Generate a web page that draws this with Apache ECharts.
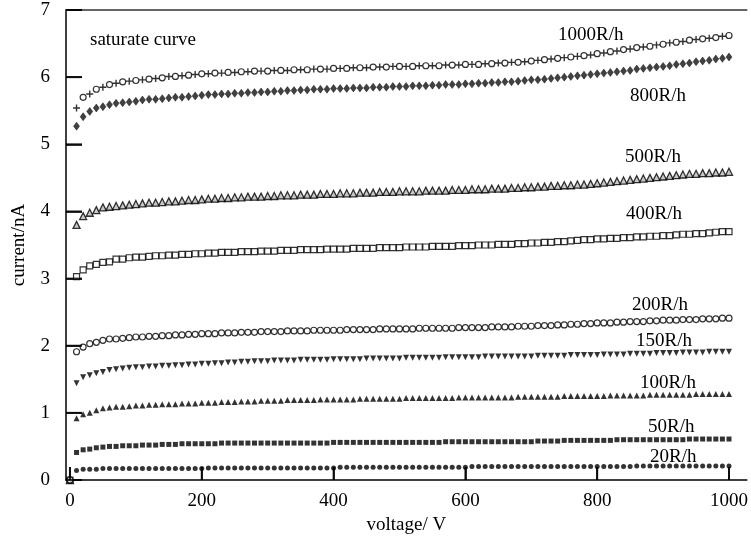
<!DOCTYPE html>
<html><head><meta charset="utf-8">
<script src="https://cdn.jsdelivr.net/npm/echarts@6/dist/echarts.min.js"></script>
<style>html,body{margin:0;padding:0;background:#fff}#c{width:751px;height:544px}</style>
</head><body><div id="c"></div>
<script>
const voltage = [0,10,20,30,40,50,60,70,80,90,100,110,120,130,140,150,160,170,180,190,200,
210,220,230,240,250,260,270,280,290,300,310,320,330,340,350,360,370,380,390,400,
410,420,430,440,450,460,470,480,490,500,510,520,530,540,550,560,570,580,590,600,
610,620,630,640,650,660,670,680,690,700,710,720,730,740,750,760,770,780,790,800,
810,820,830,840,850,860,870,880,890,900,910,920,930,940,950,960,970,980,990,1000];

const r1000 = [0,
5.54,5.70,5.75,5.82,5.85,5.89,5.91,5.93,5.94,5.95,
5.96,5.97,5.98,5.99,6.01,6.01,6.02,6.03,6.04,6.05,
6.05,6.06,6.06,6.07,6.07,6.08,6.08,6.09,6.09,6.09,
6.10,6.10,6.10,6.11,6.11,6.11,6.12,6.12,6.12,6.13,
6.13,6.13,6.14,6.14,6.14,6.15,6.15,6.15,6.16,6.16,
6.16,6.16,6.17,6.17,6.17,6.17,6.18,6.18,6.18,6.19,
6.19,6.19,6.20,6.20,6.21,6.21,6.22,6.22,6.23,6.24,
6.25,6.26,6.27,6.28,6.29,6.30,6.31,6.32,6.33,6.35,
6.36,6.38,6.39,6.41,6.42,6.44,6.45,6.46,6.48,6.49,
6.51,6.52,6.53,6.55,6.56,6.57,6.58,6.59,6.61,6.62];

const r800 = [0,
5.27,5.41,5.49,5.54,5.56,5.59,5.61,5.62,5.63,5.64,
5.66,5.67,5.67,5.68,5.69,5.70,5.70,5.71,5.72,5.73,
5.74,5.74,5.75,5.75,5.76,5.76,5.77,5.77,5.78,5.78,
5.79,5.79,5.80,5.80,5.81,5.81,5.82,5.82,5.82,5.83,
5.83,5.83,5.84,5.84,5.84,5.85,5.85,5.85,5.86,5.86,
5.86,5.87,5.87,5.87,5.88,5.88,5.89,5.89,5.89,5.90,
5.90,5.91,5.91,5.92,5.92,5.93,5.93,5.94,5.95,5.96,
5.96,5.97,5.98,5.99,6.00,6.01,6.02,6.03,6.04,6.05,
6.06,6.07,6.08,6.09,6.10,6.12,6.13,6.14,6.15,6.16,
6.17,6.19,6.20,6.21,6.23,6.24,6.25,6.27,6.28,6.30];

const r500 = [0,
3.80,3.93,3.98,4.02,4.06,4.07,4.08,4.09,4.10,4.11,
4.12,4.13,4.13,4.14,4.15,4.15,4.16,4.17,4.17,4.18,
4.19,4.19,4.20,4.20,4.21,4.21,4.22,4.22,4.22,4.23,
4.23,4.24,4.24,4.24,4.25,4.25,4.25,4.26,4.26,4.26,
4.27,4.27,4.27,4.28,4.28,4.28,4.29,4.29,4.29,4.30,
4.30,4.30,4.30,4.31,4.31,4.31,4.31,4.32,4.32,4.32,
4.33,4.33,4.33,4.34,4.34,4.34,4.35,4.35,4.36,4.36,
4.37,4.37,4.38,4.38,4.39,4.39,4.40,4.40,4.41,4.42,
4.43,4.44,4.45,4.46,4.47,4.48,4.49,4.50,4.51,4.52,
4.53,4.54,4.55,4.56,4.56,4.57,4.57,4.58,4.58,4.59];

const r400 = [0,
3.03,3.13,3.19,3.21,3.24,3.25,3.29,3.29,3.31,3.32,
3.32,3.33,3.34,3.34,3.35,3.35,3.36,3.36,3.37,3.37,
3.38,3.38,3.39,3.39,3.39,3.40,3.40,3.40,3.41,3.41,
3.41,3.42,3.42,3.42,3.43,3.43,3.43,3.43,3.44,3.44,
3.44,3.44,3.45,3.45,3.45,3.45,3.46,3.46,3.46,3.46,
3.47,3.47,3.47,3.47,3.48,3.48,3.48,3.48,3.49,3.49,
3.49,3.50,3.50,3.50,3.51,3.51,3.51,3.52,3.52,3.53,
3.53,3.54,3.54,3.55,3.55,3.56,3.57,3.58,3.58,3.59,
3.59,3.60,3.60,3.61,3.61,3.62,3.62,3.63,3.63,3.64,
3.64,3.65,3.66,3.66,3.67,3.67,3.68,3.69,3.70,3.70];

const r200 = [0,
1.91,1.98,2.03,2.05,2.08,2.10,2.10,2.11,2.12,2.13,
2.13,2.14,2.14,2.15,2.15,2.16,2.16,2.17,2.17,2.18,
2.18,2.18,2.19,2.19,2.19,2.20,2.20,2.20,2.21,2.21,
2.21,2.21,2.22,2.22,2.22,2.22,2.23,2.23,2.23,2.23,
2.23,2.24,2.24,2.24,2.24,2.24,2.25,2.25,2.25,2.25,
2.25,2.25,2.26,2.26,2.26,2.26,2.26,2.26,2.27,2.27,
2.27,2.27,2.27,2.28,2.28,2.28,2.28,2.29,2.29,2.29,
2.30,2.30,2.30,2.31,2.31,2.32,2.32,2.33,2.33,2.34,
2.34,2.34,2.35,2.35,2.36,2.36,2.36,2.37,2.37,2.38,
2.38,2.38,2.39,2.39,2.39,2.40,2.40,2.40,2.41,2.41];

const r150 = [0,
1.44,1.53,1.56,1.59,1.61,1.64,1.65,1.66,1.67,1.68,
1.68,1.69,1.69,1.70,1.70,1.71,1.71,1.72,1.72,1.73,
1.73,1.74,1.74,1.75,1.75,1.76,1.76,1.77,1.77,1.77,
1.78,1.78,1.78,1.78,1.79,1.79,1.79,1.79,1.79,1.80,
1.80,1.80,1.80,1.80,1.81,1.81,1.81,1.81,1.81,1.81,
1.82,1.82,1.82,1.82,1.82,1.82,1.83,1.83,1.83,1.83,
1.83,1.83,1.84,1.84,1.84,1.84,1.84,1.84,1.84,1.84,
1.85,1.85,1.85,1.85,1.85,1.86,1.86,1.86,1.86,1.86,
1.87,1.87,1.87,1.87,1.88,1.88,1.88,1.88,1.89,1.89,
1.89,1.89,1.90,1.90,1.90,1.90,1.91,1.91,1.91,1.91];

const r100 = [0,
0.92,0.98,1.00,1.04,1.07,1.08,1.09,1.09,1.10,1.11,
1.11,1.12,1.12,1.13,1.13,1.13,1.14,1.14,1.14,1.15,
1.15,1.15,1.16,1.16,1.16,1.17,1.17,1.17,1.18,1.18,
1.18,1.18,1.19,1.19,1.19,1.19,1.19,1.20,1.20,1.20,
1.20,1.20,1.20,1.21,1.21,1.21,1.21,1.21,1.21,1.21,
1.22,1.22,1.22,1.22,1.22,1.22,1.22,1.22,1.23,1.23,
1.23,1.23,1.23,1.23,1.23,1.23,1.23,1.24,1.24,1.24,
1.24,1.24,1.24,1.24,1.25,1.25,1.25,1.25,1.25,1.25,
1.25,1.26,1.26,1.26,1.26,1.26,1.26,1.27,1.27,1.27,
1.27,1.27,1.27,1.27,1.28,1.28,1.28,1.28,1.28,1.28];

const r50 = [0,
0.41,0.45,0.46,0.48,0.49,0.50,0.50,0.51,0.51,0.51,
0.52,0.52,0.52,0.53,0.53,0.53,0.54,0.54,0.54,0.54,
0.54,0.54,0.55,0.55,0.55,0.55,0.55,0.55,0.55,0.55,
0.55,0.55,0.55,0.55,0.55,0.55,0.55,0.55,0.55,0.56,
0.56,0.56,0.56,0.56,0.56,0.56,0.56,0.56,0.56,0.56,
0.56,0.56,0.56,0.56,0.56,0.56,0.57,0.57,0.57,0.57,
0.57,0.57,0.57,0.57,0.57,0.57,0.57,0.57,0.57,0.57,
0.58,0.58,0.58,0.58,0.59,0.59,0.59,0.59,0.59,0.59,
0.59,0.59,0.60,0.60,0.60,0.60,0.60,0.60,0.60,0.60,
0.60,0.60,0.60,0.61,0.61,0.61,0.61,0.61,0.61,0.61];

const r20 = [0,
0.14,0.16,0.16,0.16,0.17,0.17,0.17,0.17,0.17,0.17,
0.17,0.17,0.17,0.17,0.17,0.17,0.17,0.17,0.17,0.17,
0.18,0.18,0.18,0.18,0.18,0.18,0.18,0.18,0.18,0.18,
0.18,0.18,0.18,0.18,0.18,0.18,0.18,0.18,0.18,0.18,
0.19,0.19,0.19,0.19,0.19,0.19,0.19,0.19,0.19,0.19,
0.19,0.19,0.19,0.19,0.19,0.19,0.19,0.19,0.19,0.19,
0.20,0.20,0.20,0.20,0.20,0.20,0.20,0.20,0.20,0.20,
0.20,0.20,0.20,0.20,0.20,0.20,0.20,0.20,0.20,0.20,
0.20,0.20,0.20,0.20,0.20,0.21,0.21,0.21,0.21,0.21,
0.21,0.21,0.21,0.21,0.21,0.21,0.21,0.21,0.21,0.21];

const xTicks = [0, 200, 400, 600, 800, 1000];
const yTicks = [0, 1, 2, 3, 4, 5, 6, 7];
const seriesNames = ['1000R/h','800R/h','500R/h','400R/h','200R/h','150R/h','100R/h','50R/h','20R/h'];
const chartTitle = 'saturate curve';
const xName = 'voltage/ V';
const yName = 'current/nA';

const FONT = '"Liberation Serif", "Times New Roman", serif';
const X_MIN = -6, X_MAX = 1027;
const pairs = arr => voltage.map((v, i) => [v, arr[i]]);
const plusPath = 'path://M4,0H6V4H10V6H6V10H4V6H0V4H4Z';
const openStyle = {color: '#fff', borderColor: '#000', borderWidth: 1.2};
const solidStyle = {color: '#000'};

function sc(name, data, symbol, size, style, extra) {
  return Object.assign({
    type: 'scatter', name: name, data: data, symbol: symbol, symbolSize: size,
    itemStyle: style, silent: true
  }, extra || {});
}

const d1000 = pairs(r1000);
const series = [
  sc(seriesNames[8], pairs(r20), 'circle', 5, solidStyle),
  sc(seriesNames[7], pairs(r50), 'rect', 5, solidStyle),
  sc(seriesNames[6], pairs(r100), 'triangle', 6, solidStyle),
  sc(seriesNames[5], pairs(r150), 'triangle', 6, solidStyle, {symbolRotate: 180}),
  sc(seriesNames[4], pairs(r200), 'circle', 6, openStyle),
  sc(seriesNames[3], pairs(r400), 'rect', 6, openStyle),
  sc(seriesNames[2], pairs(r500), 'triangle', 7, {color: '#bbb', borderColor: '#000', borderWidth: 1.3}),
  sc(seriesNames[1], pairs(r800), 'diamond', [6, 8], {color: '#111', borderColor: '#000', borderWidth: 0.5}),
  sc(seriesNames[0], d1000.filter((p, i) => i % 2 === 0), 'circle', 6, openStyle),
  sc(seriesNames[0] + ' ', d1000.filter((p, i) => i % 2 === 1), plusPath, 7, solidStyle),
  // inward tick marks, placed by the library's scales
  sc('xticks', xTicks.map(v => [v, 0]), 'rect', [2, 13], solidStyle,
     {symbolOffset: [0, -6.5], clip: false, z: 5}),
  sc('yticks', yTicks.map(v => [X_MIN, v]), 'rect', [16, 2], solidStyle,
     {symbolOffset: [8, 0], clip: false, z: 5})
];

const labelPos = {
  '1000R/h': [558, 35], '800R/h': [630, 96], '500R/h': [625, 157], '400R/h': [626, 214],
  '200R/h': [632, 305], '150R/h': [636, 341], '100R/h': [640, 383], '50R/h': [648, 427], '20R/h': [650, 457]
};
const textGraphics = seriesNames.map(n => ({
  type: 'text', x: labelPos[n][0], y: labelPos[n][1], silent: true,
  style: {text: n, font: '19px ' + FONT, fill: '#000', align: 'left', verticalAlign: 'middle'}
}));
textGraphics.push({
  type: 'text', x: 90, y: 40, silent: true,
  style: {text: chartTitle, font: '19px ' + FONT, fill: '#000', align: 'left', verticalAlign: 'middle'}
});

const chart = echarts.init(document.getElementById('c'), null, {renderer: 'canvas'});
chart.setOption({
  animation: false,
  backgroundColor: '#fff',
  grid: {left: 66, right: 0, top: 10, bottom: 64, containLabel: false},
  xAxis: [{
    type: 'value', min: X_MIN, max: X_MAX, position: 'bottom',
    name: xName, nameLocation: 'middle', nameGap: 32,
    nameTextStyle: {fontFamily: FONT, fontSize: 19, color: '#000'},
    axisLine: {show: true, onZero: false, lineStyle: {color: '#000', width: 1.5}},
    axisTick: {show: true, inside: true, length: 13, customValues: xTicks, lineStyle: {color: '#000', width: 1.5}},
    axisLabel: {show: true, customValues: xTicks, margin: 12, fontFamily: FONT, fontSize: 19, color: '#000',
      formatter: v => String(v)},
    splitLine: {show: false}
  }, {
    type: 'value', min: X_MIN, max: X_MAX, position: 'top',
    axisLine: {show: true, onZero: false, lineStyle: {color: '#333', width: 1.5}},
    axisTick: {show: false}, axisLabel: {show: false}, splitLine: {show: false}
  }],
  yAxis: {
    type: 'value', min: 0, max: 7, interval: 1,
    name: yName, nameLocation: 'middle', nameGap: 37, nameRotate: 90,
    nameTextStyle: {fontFamily: FONT, fontSize: 19, color: '#000'},
    axisLine: {show: true, onZero: false, lineStyle: {color: '#000', width: 1.5}},
    axisTick: {show: true, inside: true, length: 16, lineStyle: {color: '#000', width: 1.5}},
    axisLabel: {margin: 16, fontFamily: FONT, fontSize: 19, color: '#000'},
    splitLine: {show: false}
  },
  series: series,
  graphic: textGraphics
});
</script>
</body></html>
